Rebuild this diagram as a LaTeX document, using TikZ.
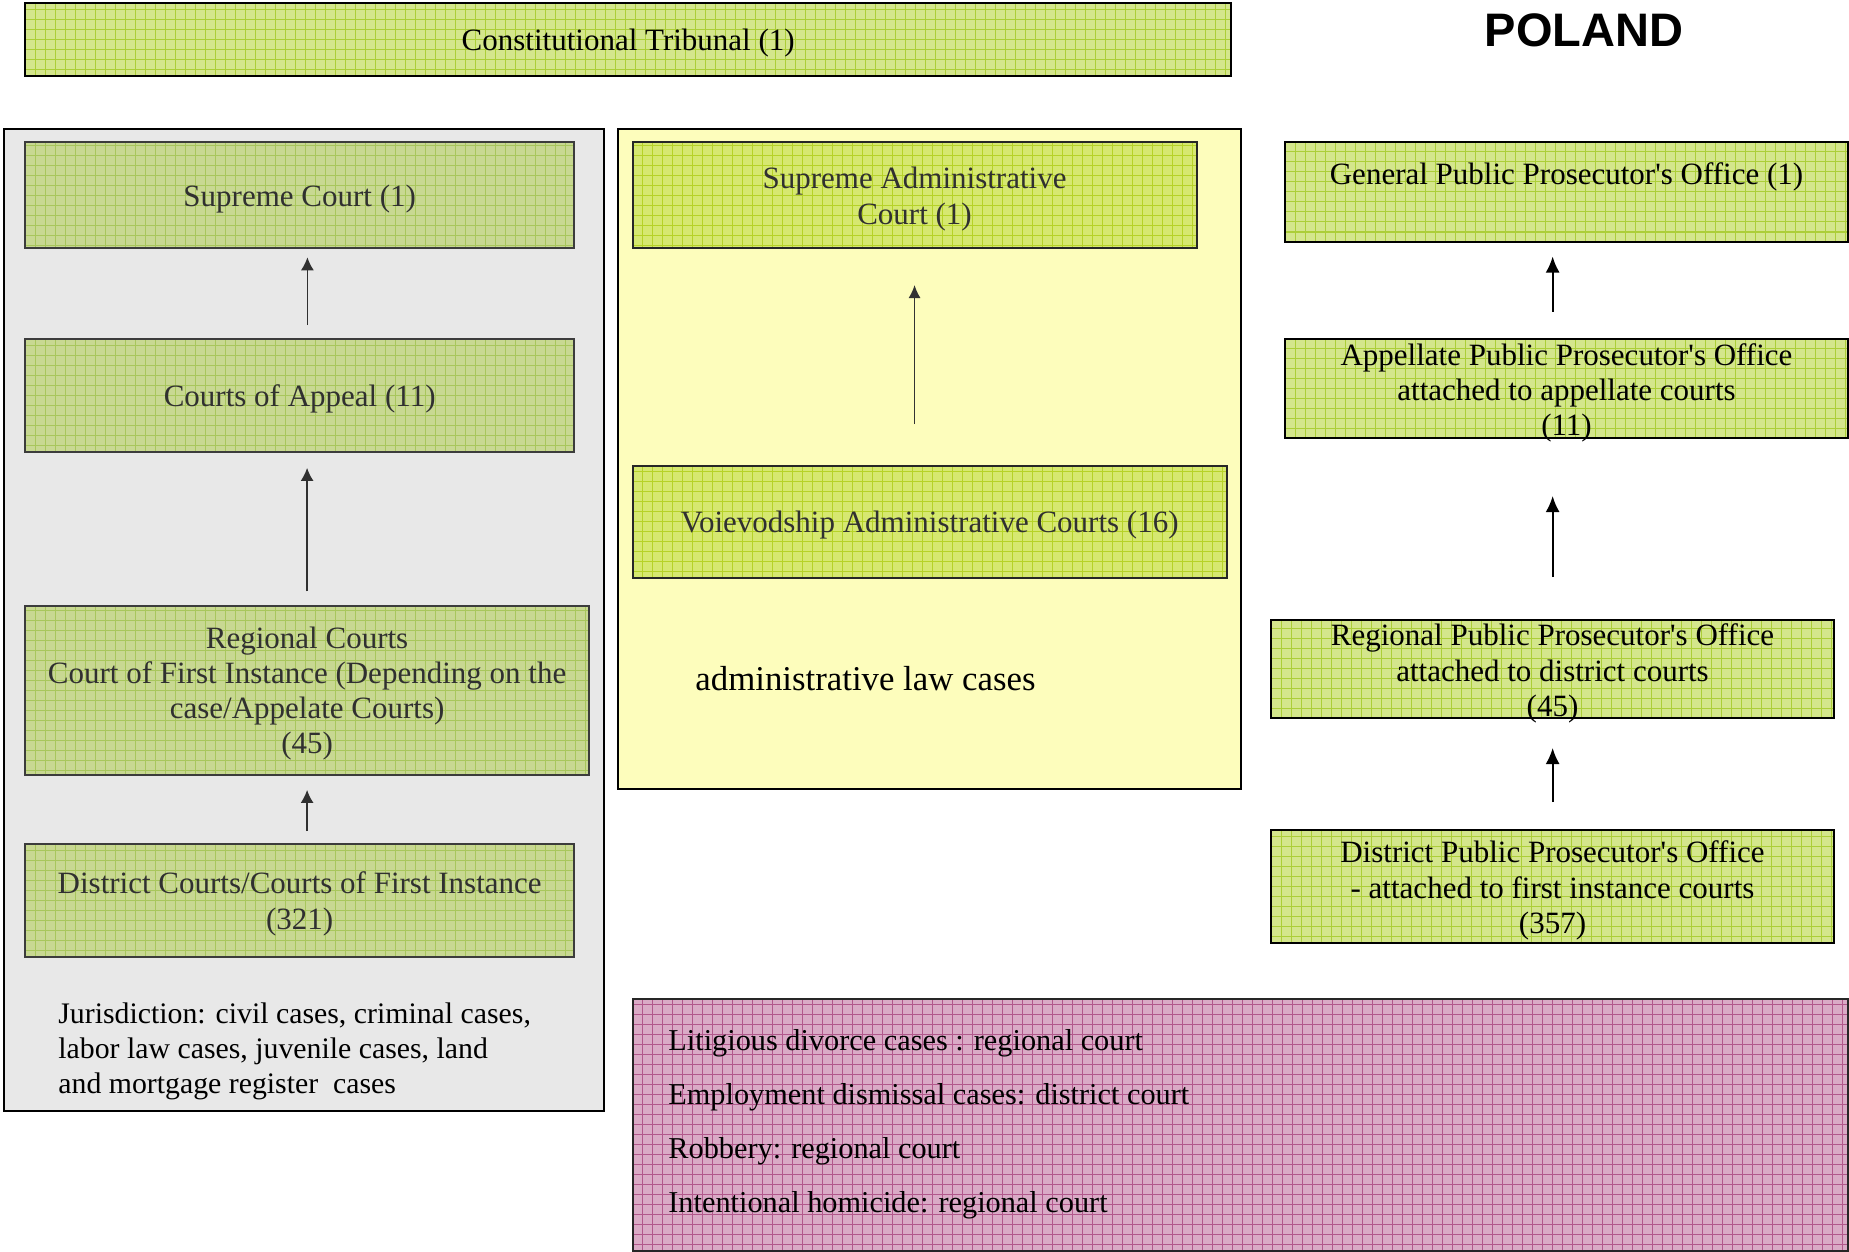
\documentclass[tikz,border=0pt]{standalone}
\usepackage{fontspec}
\setmainfont{Liberation Serif}
\newfontfamily\polandfont{Liberation Sans}
\usetikzlibrary{arrows.meta,fit}
\definecolor{ctfill}{RGB}{212,230,140}
\definecolor{ctgrid}{RGB}{172,206,56}
\definecolor{lfill}{RGB}{200,216,146}
\definecolor{lgrid}{RGB}{168,198,92}
\definecolor{mfill}{RGB}{214,232,112}
\definecolor{mgrid}{RGB}{182,210,40}
\definecolor{pfill}{RGB}{218,170,198}
\definecolor{pgrid}{RGB}{178,88,140}
\definecolor{grayfill}{RGB}{232,232,232}
\definecolor{yelfill}{RGB}{253,253,188}
\definecolor{ltext}{RGB}{48,48,48}
\definecolor{lborder}{RGB}{60,60,60}
\begin{document}
\begin{tikzpicture}[x=0.5pt,y=-0.5pt,
  gridded/.style 2 args={fill=#1, path picture={\draw[#2, line width=0.5pt, step=5pt] (path picture bounding box.south west) grid (path picture bounding box.north east);}},
  panel/.style={inner sep=0pt, draw=black, line width=1pt},
  ctbox/.style={inner sep=0pt, gridded={ctfill}{ctgrid}, draw=black, line width=1pt},
  lbox/.style={inner sep=0pt, gridded={lfill}{lgrid}, draw=lborder, line width=1pt},
  mbox/.style={inner sep=0pt, gridded={mfill}{mgrid}, draw=black!85, line width=1pt},
  pbox/.style={inner sep=0pt, gridded={pfill}{pgrid}, draw=black!85, line width=1pt},
  txt/.style={align=center, inner sep=0pt, yshift=-1.75pt, font=\fontsize{15.5pt}{17.65pt}\selectfont},
  ltxt/.style={txt, text=ltext},
  arrL/.style={draw=ltext, line width=0.75pt, -{Latex[length=6.5pt,width=6.5pt]}},
  arrM/.style={draw=black!80, line width=0.75pt, -{Latex[length=6.5pt,width=6pt]}},
  arrR/.style={draw=black, line width=1pt, -{Latex[length=8pt,width=7pt]}}
]
\useasboundingbox (0,0) rectangle (1849,1252);

% panels
\node[panel, fill=grayfill, fit={(4,129)(603.5,1111)}] (graypanel) {};
\node[panel, fill=yelfill, fit={(617.7,129)(1241.4,788.5)}] (yelpanel) {};

% constitutional tribunal
\node[ctbox, fit={(25.4,3.2)(1231,75.8)}] (ct) {};
\node[txt] (ctT) at (ct) {Constitutional Tribunal (1)};

\node[inner sep=0pt, font=\polandfont\bfseries\fontsize{23.5pt}{26pt}\selectfont] (poland) at (1584,30.5) {POLAND};

% left column
\node[lbox, fit={(25.4,142.5)(574,248.3)}] (sc) {};
\node[ltxt] (scT) at (sc) {Supreme Court (1)};
\node[lbox, fit={(25.4,339.3)(574,451.9)}] (coa) {};
\node[ltxt] (coaT) at (coa) {Courts of Appeal (11)};
\node[lbox, fit={(25.4,605.6)(588.8,774.5)}] (rc) {};
\node[ltxt] (rcT) at (rc) {Regional Courts\\Court of First Instance (Depending on the\\case/Appelate Courts)\\(45)};
\node[lbox, fit={(25.4,844.4)(574,956.5)}] (dc) {};
\node[ltxt] (dcT) at (dc) {District Courts/Courts of First Instance\\(321)};
\node[txt, align=left, anchor=west, font=\fontsize{14.9pt}{17.65pt}\selectfont] (juris) at (58,1048) {Jurisdiction: civil cases, criminal cases,\\labor law cases, juvenile cases, land\\and mortgage register\ \ cases};

\draw[arrL, shorten <=6.65pt, shorten >=4pt] ([xshift=3.85pt]coa.north) -- ([xshift=3.85pt]sc.south);
\draw[arrL, shorten <=6.6pt, shorten >=7.5pt] (rc.north) -- (rc.north |- coa.south);
\draw[arrL, shorten <=6.2pt, shorten >=7.2pt] (rc.south |- dc.north) -- (rc.south);

% middle column
\node[mbox, fit={(632.5,142.5)(1196.6,248.3)}] (sac) {};
\node[ltxt] (sacT) at (sac) {Supreme Administrative\\Court (1)};
\node[mbox, fit={(632.5,465.5)(1226.7,578)}] (voi) {};
\node[ltxt] (voiT) at (voi) {Voievodship Administrative Courts (16)};
\draw[arrM, shorten <=20.25pt, shorten >=17.85pt] (sac.south |- voi.north) -- (sac.south);
\node[inner sep=0pt, anchor=west, font=\fontsize{17.4pt}{20pt}\selectfont] (adm) at (695,679) {administrative law cases};

% right column
\node[ctbox, fit={(1285,142.5)(1848,241.5)}] (gpo) {};
\node[txt] (gpoT) at (1566.5,173.3) {General Public Prosecutor\textquotesingle s Office (1)};
\node[ctbox, fit={(1285,339.3)(1848,438)}] (appo) {};
\node[txt] (appoT) at (1566.5,389.5) {Appellate Public Prosecutor\textquotesingle s Office\\attached to appellate courts\\(11)};
\node[ctbox, fit={(1271,619.6)(1834.3,718.2)}] (rppo) {};
\node[txt] (rppoT) at (1552.5,670) {Regional Public Prosecutor\textquotesingle s Office\\attached to district courts\\(45)};
\node[ctbox, fit={(1271,830.4)(1834.3,943.4)}] (dppo) {};
\node[txt] (dppoT) at (1552.5,887) {District Public Prosecutor\textquotesingle s Office\\- attached to first instance courts\\(357)};

\draw[arrR, shorten <=13.35pt, shorten >=7pt] (rppo.north |- appo.north) -- (rppo.north |- gpo.south);
\draw[arrR, shorten <=20.8pt, shorten >=28.5pt] (rppo.north) -- (rppo.north |- appo.south);
\draw[arrR, shorten <=13.6pt, shorten >=14.4pt] (dppo.north) -- (rppo.south);

% pink box
\node[pbox, fit={(632.5,998.5)(1848,1251)}] (cases) {};
\node[txt, align=left, anchor=west, font=\fontsize{15.15pt}{27pt}\selectfont] (casesT) at (668,1121) {Litigious divorce cases : regional court\\Employment dismissal cases: district court\\Robbery: regional court\\Intentional homicide: regional court};
\end{tikzpicture}
\end{document}
